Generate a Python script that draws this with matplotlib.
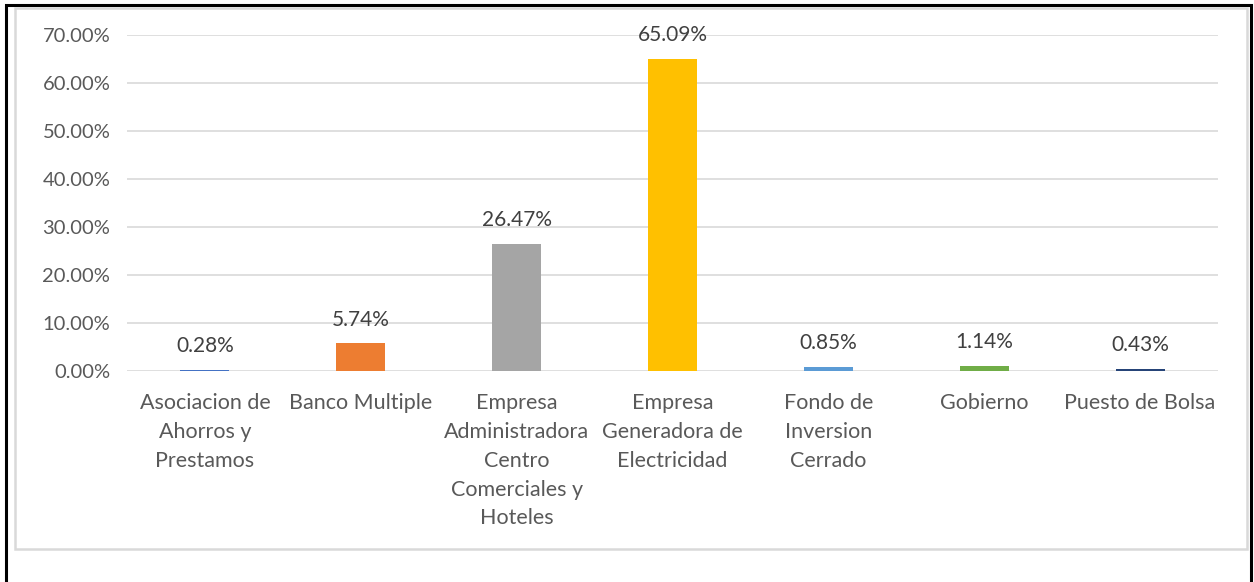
import matplotlib.pyplot as plt
from matplotlib.patches import Rectangle
from matplotlib.ticker import FuncFormatter

# data
categories = ['Asociacion de\nAhorros y\nPrestamos', 'Banco Multiple',
              'Empresa\nAdministradora\nCentro\nComerciales y\nHoteles',
              'Empresa\nGeneradora de\nElectricidad',
              'Fondo de\nInversion\nCerrado', 'Gobierno', 'Puesto de Bolsa']
values = [0.28, 5.74, 26.47, 65.09, 0.85, 1.14, 0.43]
colors = ['#4472C4', '#ED7D31', '#A5A5A5', '#FFC000', '#5B9BD5', '#70AD47', '#264478']
yticks = [0, 10, 20, 30, 40, 50, 60, 70]

plt.rcParams['font.family'] = ['Lato', 'DejaVu Sans']
textColor = '#595959'

W, H = 1254, 582
fig = plt.figure(figsize=(W / 100, H / 100), dpi=100)

# borders: outer black frame (open at bottom), inner gray chart area
fig.add_artist(Rectangle((6 / W, -0.05), (1251 - 6) / W, 1.05 - 5 / H, transform=fig.transFigure,
                         fill=False, edgecolor='black', linewidth=2.2))
fig.add_artist(Rectangle((14.5 / W, 1 - 548.5 / H), (1247 - 14.5) / W, (548.5 - 8) / H,
                         transform=fig.transFigure, fill=False, edgecolor='#D9D9D9', linewidth=1.8))

ax = fig.add_axes([127 / W, 1 - 371 / H, (1218 - 127) / W, (371 - 35) / H])
x = range(len(categories))
ax.bar(x, values, width=0.315, color=colors, zorder=3)
ax.set_xlim(-0.5, len(categories) - 0.5)
ax.set_ylim(0, 70)
ax.set_yticks(yticks)
ax.yaxis.set_major_formatter(FuncFormatter(lambda v, p: '%.2f%%' % v))
ax.set_xticks(list(x))
ax.set_xticklabels(categories, linespacing=1.55)
ax.grid(axis='y', color='#D9D9D9', linewidth=1.2, zorder=0)
for s in ax.spines.values():
    s.set_visible(False)
ax.tick_params(length=0, labelsize=14.5, colors=textColor)
ax.tick_params(axis='x', labelsize=15.5, pad=16)
ax.tick_params(axis='y', pad=12)

for i, v in enumerate(values):
    ax.annotate('%.2f%%' % v, (i, v), xytext=(0, 10), textcoords='offset points',
                ha='center', va='bottom', fontsize=15, color='#404040')

fig.savefig('out.png', dpi=100)
